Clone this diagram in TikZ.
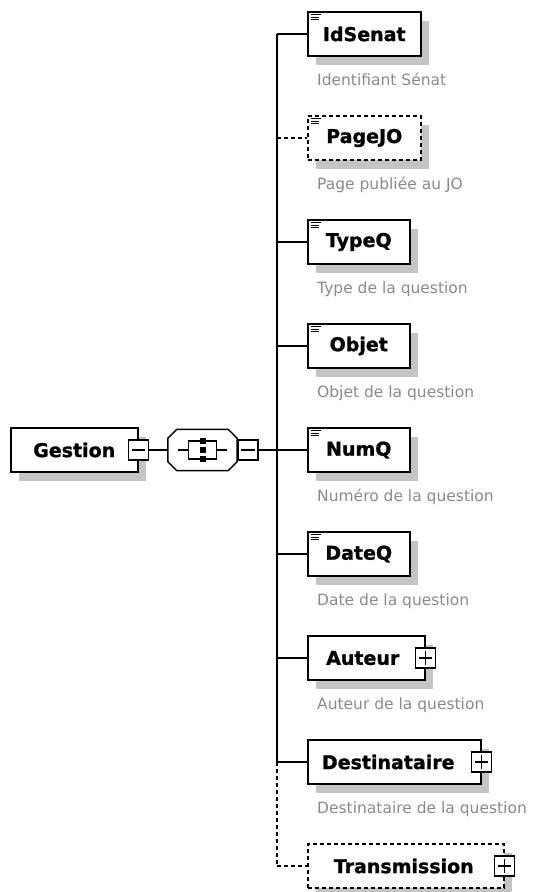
\documentclass[tikz,border=0pt]{standalone}
\usepackage{fontspec}
\setmainfont{DejaVu Sans}[BoldFeatures={FakeBold=1.2}]
\usetikzlibrary{shadows}
\definecolor{shadowgray}{HTML}{C4C4C4}
\definecolor{descgray}{HTML}{8A8A8A}
\tikzset{
  elbox/.style={draw=black, line width=1.5pt, fill=white, minimum height=44pt, inner sep=0pt,
    font=\fontsize{19}{22}\selectfont\bfseries, anchor=west,
    drop shadow={shadow xshift=8pt, shadow yshift=-9pt, fill=shadowgray, opacity=1}},
  optbox/.style={elbox, dash pattern=on 4pt off 3pt},
  pmbox/.style={draw=black, line width=1.3pt, fill=white, minimum size=20pt, inner sep=0pt},
  pmline/.style={line width=1.3pt},
  desc/.style={anchor=base west, text=descgray, font=\fontsize{15.5}{18}\selectfont, inner sep=0pt},
  conn/.style={line width=1.4pt},
  optconn/.style={conn, dash pattern=on 4pt off 3pt},
  iconline/.style={line width=1.1pt}
}
\newcommand\elicon[1]{%
  \draw[iconline] ([shift={(4,3.5)}]#1.north west) -- ++(10,0);
  \draw[iconline] ([shift={(4,6)}]#1.north west) -- ++(8,0);
  \draw[iconline] ([shift={(4,8.5)}]#1.north west) -- ++(8,0);}
\newcommand\minusin[1]{\draw[pmline] ([xshift=4pt]#1.west) -- ([xshift=-4pt]#1.east);}
\newcommand\plusin[1]{\minusin{#1}\draw[pmline] ([yshift=-4pt]#1.north) -- ([yshift=4pt]#1.south);}
\newcommand\octpath[1]{([xshift=9pt]#1.north west) -- ([xshift=-9pt]#1.north east) -- ([yshift=-9pt]#1.north east) -- ([yshift=9pt]#1.south east) -- ([xshift=-9pt]#1.south east) -- ([xshift=9pt]#1.south west) -- ([yshift=9pt]#1.south west) -- ([yshift=-9pt]#1.north west) -- cycle}
\begin{document}
\begin{tikzpicture}[x=1pt,y=-1pt]
\useasboundingbox (0,0) rectangle (538,892);

% root element
\node[elbox, minimum width=127pt] (gestion) at (10,450) {Gestion};
\node[pmbox] (gmin) at (gestion.east) {};
\minusin{gmin}

% sequence compositor
\node[minimum width=69pt, minimum height=41pt, inner sep=0pt] (seq) at (202.5,450) {};
\begin{scope}[shift={(8,9)}]
  \fill[shadowgray] \octpath{seq};
\end{scope}
\filldraw[draw=black, fill=white, line width=1.5pt] \octpath{seq};
\begin{scope}[shift={(seq.center)}, line width=1.3pt]
  \draw (-24.5,0) -- (-14,0);
  \draw (14,0) -- (24.5,0);
  \draw (-2.5,-9) -- (-14,-9) -- (-14,9) -- (-2.5,9);
  \draw (2.5,-9) -- (14,-9) -- (14,9) -- (2.5,9);
  \fill (-3,-12) rectangle (3,-6);
  \fill (-3,-3) rectangle (3,3);
  \fill (-3,6) rectangle (3,12);
\end{scope}
\node[pmbox, anchor=west] (smin) at (seq.east) {};
\minusin{smin}
\draw[conn] (gmin.east) -- (seq.west);

% spine coordinates
\coordinate (s0) at (277,34);
\coordinate (s1) at (277,138);
\coordinate (s2) at (277,242);
\coordinate (s3) at (277,346);
\coordinate (s4) at (277,450);
\coordinate (s5) at (277,554);
\coordinate (s6) at (277,658);
\coordinate (s7) at (277,762);
\coordinate (s8) at (277,866);
\draw[conn] (s0) -- (s7);
\draw[optconn] (s7) -- (s8);
\draw[conn] (smin.east) -- (s4);

% children
\node[elbox, minimum width=113pt] (b0) at (307,34) {IdSenat};
\node[optbox, minimum width=113pt] (b1) at (307,138) {PageJO};
\node[elbox, minimum width=102pt] (b2) at (307,242) {TypeQ};
\node[elbox, minimum width=102pt] (b3) at (307,346) {Objet};
\node[elbox, minimum width=102pt] (b4) at (307,450) {NumQ};
\node[elbox, minimum width=102pt] (b5) at (307,554) {DateQ};
\node[elbox, minimum width=117pt] (b6) at (307,658) {Auteur\hspace*{7pt}};
\node[elbox, minimum width=173pt] (b7) at (307,762) {Destinataire\hspace*{12pt}};
\node[optbox, minimum width=196pt] (b8) at (307,866) {Transmission\hspace*{4pt}};

\elicon{b0}\elicon{b1}\elicon{b2}\elicon{b3}\elicon{b4}\elicon{b5}

\node[pmbox] (p6) at (b6.east) {}; \plusin{p6}
\node[pmbox] (p7) at (b7.east) {}; \plusin{p7}
\node[pmbox] (p8) at (b8.east) {}; \plusin{p8}

\draw[conn] (s0) -- (b0.west);
\draw[optconn] (s1) -- (b1.west);
\draw[conn] (s2) -- (b2.west);
\draw[conn] (s3) -- (b3.west);
\draw[conn] (s4) -- (b4.west);
\draw[conn] (s5) -- (b5.west);
\draw[conn] (s6) -- (b6.west);
\draw[conn] (s7) -- (b7.west);
\draw[optconn] (s8) -- (b8.west);

% descriptions
\node[desc] (d0) at (317,85) {Identifiant Sénat};
\node[desc] (d1) at (317,189) {Page publiée au JO};
\node[desc] (d2) at (317,293) {Type de la question};
\node[desc] (d3) at (317,397) {Objet de la question};
\node[desc] (d4) at (317,501) {Numéro de la question};
\node[desc] (d5) at (317,605) {Date de la question};
\node[desc] (d6) at (317,709) {Auteur de la question};
\node[desc] (d7) at (317,813) {Destinataire de la question};
\end{tikzpicture}
\end{document}
